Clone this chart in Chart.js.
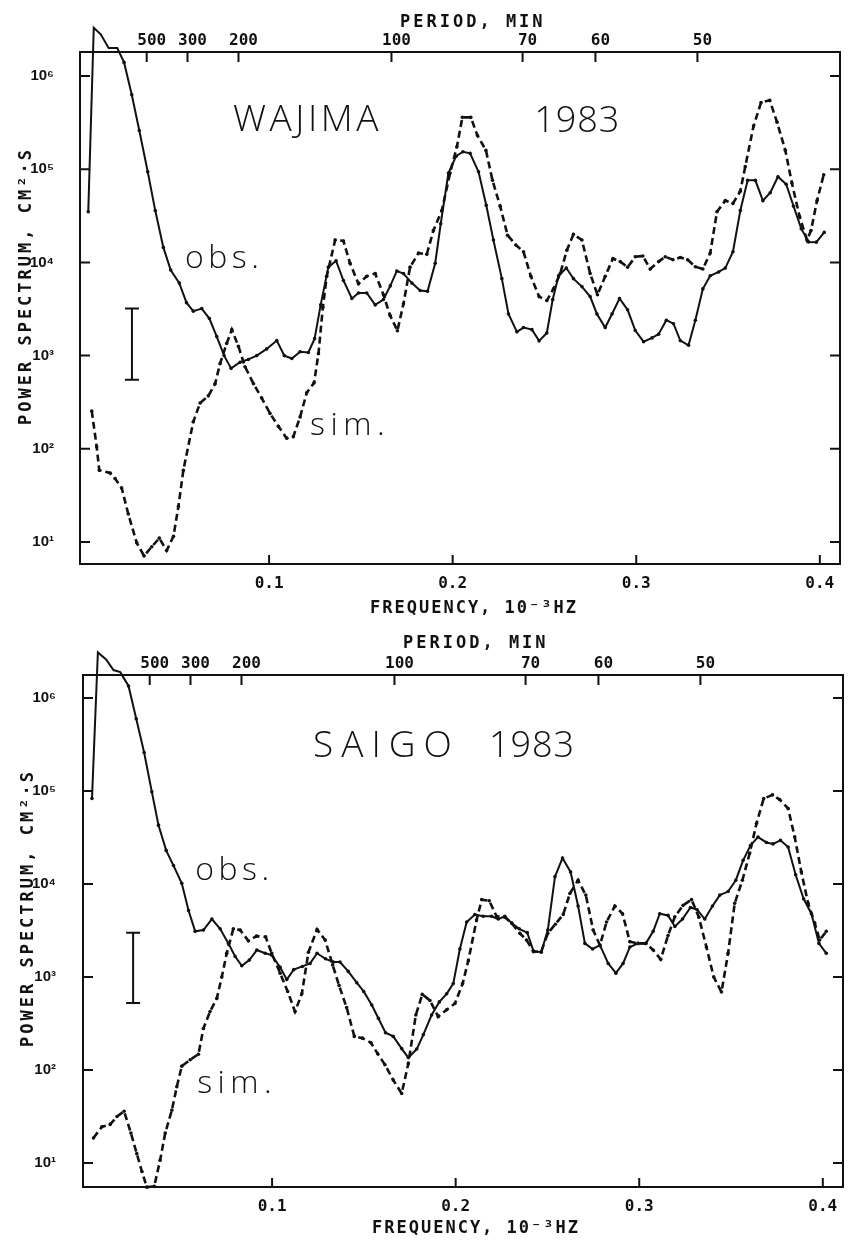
<!DOCTYPE html>
<html>
<head>
<meta charset="utf-8">
<script src="https://cdn.jsdelivr.net/npm/chart.js@4.4.1/dist/chart.umd.min.js"></script>
<style>
html, body { margin: 0; padding: 0; background: #fff; }
#wrap { position: relative; width: 848px; height: 1243px; overflow: hidden; background: #fff; }
canvas { position: absolute; left: 0; }
#c1 { top: 0; }
#c2 { top: 620px; }
</style>
</head>
<body>
<div id="wrap">
  <canvas id="c1" width="848" height="620"></canvas>
  <canvas id="c2" width="848" height="623"></canvas>
</div>
<script>
// ---------- tick values and labels ----------
const freqTicks = [0.1, 0.2, 0.3, 0.4];
const freqTickLabels = ['0.1', '0.2', '0.3', '0.4'];
const periodTicks = [500, 300, 200, 100, 70, 60, 50];          // minutes
const periodTickLabels = ['500', '300', '200', '100', '70', '60', '50'];
const powerTicks = [1e1, 1e2, 1e3, 1e4, 1e5, 1e6];
const powerTickLabels = ['10¹', '10²', '10³', '10⁴', '10⁵', '10⁶'];

// ---------- WAJIMA 1983 ----------
const wajimaObsFreq = [0.0015,0.0045,0.0083,0.0126,0.0173,0.0210,0.0252,0.0293,0.0339,0.0380,0.0424,0.0464,0.0511,0.0550,0.0587,0.0633,0.0675,0.0715,0.0755,0.0793,0.0842,0.0887,0.0933,0.0987,0.1042,0.1083,0.1124,0.1169,0.1214,0.1248,0.1281,0.1323,0.1365,0.1405,0.1451,0.1487,0.1532,0.1578,0.1623,0.1660,0.1696,0.1732,0.1778,0.1823,0.1863,0.1905,0.1935,0.1977,0.2019,0.2056,0.2095,0.2141,0.2183,0.2222,0.2268,0.2304,0.2350,0.2386,0.2432,0.2471,0.2513,0.2545,0.2577,0.2619,0.2658,0.2704,0.2749,0.2786,0.2831,0.2868,0.2909,0.2953,0.2995,0.3040,0.3086,0.3122,0.3164,0.3203,0.3240,0.3285,0.3322,0.3363,0.3403,0.3449,0.3485,0.3527,0.3567,0.3607,0.3649,0.3690,0.3730,0.3772,0.3817,0.3857,0.3899,0.3939,0.3981,0.4024];
const wajimaObsPower = [3.5e4,3.3e6,2.8e6,2.0e6,2.0e6,1.4e6,6.3e5,2.6e5,9.4e4,3.6e4,1.45e4,8.3e3,6.0e3,3.7e3,3.0e3,3.2e3,2.5e3,1.6e3,1.0e3,730,850,910,1000,1180,1450,1000,930,1100,1080,1520,3.5e3,8.9e3,1.04e4,6.4e3,4.1e3,4.7e3,4.7e3,3.5e3,4.0e3,5.6e3,8.1e3,7.6e3,6.0e3,5.0e3,4.9e3,9.8e3,2.6e4,9.1e4,1.38e5,1.54e5,1.48e5,9.4e4,4.1e4,1.74e4,6.7e3,2.8e3,1.8e3,2.0e3,1.9e3,1.44e3,1.75e3,4.0e3,7.2e3,8.7e3,6.7e3,5.5e3,4.3e3,2.8e3,2.0e3,2.8e3,4.1e3,3.1e3,1.86e3,1.41e3,1.55e3,1.7e3,2.4e3,2.2e3,1.45e3,1.29e3,2.4e3,5.2e3,7.2e3,7.9e3,8.7e3,1.3e4,3.6e4,7.6e4,7.6e4,4.6e4,5.6e4,8.3e4,6.9e4,4.0e4,2.3e4,1.66e4,1.65e4,2.1e4];

const wajimaSimFreq = [0.0034,0.0061,0.0075,0.0134,0.0161,0.0197,0.0233,0.0279,0.0319,0.0361,0.0402,0.0442,0.0479,0.0506,0.0533,0.0587,0.0624,0.0669,0.0706,0.0733,0.0769,0.0797,0.0833,0.0869,0.0915,0.0960,0.1005,0.1051,0.1096,0.1132,0.1169,0.1205,0.1245,0.1269,0.1293,0.1314,0.1360,0.1405,0.1441,0.1487,0.1532,0.1578,0.1623,0.1659,0.1699,0.1732,0.1768,0.1814,0.1859,0.1895,0.1941,0.1986,0.2023,0.2053,0.2099,0.2135,0.2181,0.2217,0.2259,0.2299,0.2344,0.2386,0.2426,0.2471,0.2513,0.2549,0.2586,0.2622,0.2658,0.2704,0.2749,0.2789,0.2831,0.2873,0.2913,0.2953,0.2995,0.3036,0.3076,0.3122,0.3158,0.3200,0.3240,0.3280,0.3322,0.3363,0.3403,0.3440,0.3485,0.3527,0.3567,0.3594,0.3639,0.3680,0.3727,0.3767,0.3812,0.3848,0.3890,0.3930,0.3952,0.3985,0.4021];
const wajimaSimPower = [255,105,59,55,48,38,20,9.8,7.1,8.9,11,8.1,11.5,24,59,195,310,370,500,820,1350,1900,1260,760,500,350,240,174,130,135,220,400,510,1050,3300,7100,1.74e4,1.7e4,9.8e3,5.9e3,7.1e3,7.6e3,4.5e3,2.7e3,1.85e3,3.6e3,8.9e3,1.26e4,1.22e4,2.2e4,3.6e4,9.1e4,1.74e5,3.6e5,3.6e5,2.3e5,1.6e5,7.6e4,4.0e4,1.96e4,1.54e4,1.3e4,7.1e3,4.3e3,3.9e3,5.2e3,7.6e3,1.35e4,2.0e4,1.74e4,7.6e3,4.5e3,7.1e3,1.1e4,1.02e4,8.9e3,1.15e4,1.17e4,8.5e3,1.02e4,1.15e4,1.07e4,1.13e4,1.07e4,9.0e3,8.5e3,1.26e4,3.5e4,4.6e4,4.3e4,5.8e4,1.07e5,2.9e5,5.2e5,5.5e5,3.2e5,1.6e5,7.1e4,3.1e4,1.74e4,2.2e4,4.6e4,8.7e4];

// ---------- SAIGO 1983 ----------
const saigoObsFreq = [0.0019,0.0051,0.0096,0.0136,0.0173,0.0218,0.0260,0.0303,0.0345,0.0381,0.0423,0.0463,0.0508,0.0545,0.0581,0.0626,0.0672,0.0717,0.0762,0.0799,0.0835,0.0876,0.0917,0.0962,0.0998,0.1044,0.1080,0.1118,0.1165,0.1207,0.1245,0.1291,0.1334,0.1370,0.1415,0.1461,0.1499,0.1543,0.1579,0.1618,0.1660,0.1706,0.1742,0.1788,0.1824,0.1869,0.1911,0.1951,0.1987,0.2023,0.2060,0.2105,0.2150,0.2196,0.2232,0.2268,0.2305,0.2346,0.2390,0.2424,0.2466,0.2502,0.2541,0.2582,0.2626,0.2667,0.2704,0.2746,0.2786,0.2831,0.2873,0.2912,0.2949,0.2994,0.3036,0.3076,0.3112,0.3157,0.3194,0.3236,0.3279,0.3315,0.3357,0.3399,0.3439,0.3484,0.3526,0.3566,0.3606,0.3647,0.3693,0.3729,0.3769,0.3811,0.3852,0.3896,0.3938,0.3979,0.4019];
const saigoObsPower = [8.3e4,3.1e6,2.6e6,2.0e6,1.9e6,1.35e6,6.0e5,2.6e5,9.8e4,4.3e4,2.3e4,1.58e4,1.02e4,5.2e3,3.1e3,3.2e3,4.2e3,3.3e3,2.3e3,1.66e3,1.32e3,1.52e3,1.95e3,1.8e3,1.72e3,1.27e3,940,1.2e3,1.3e3,1.4e3,1.8e3,1.57e3,1.45e3,1.45e3,1.15e3,870,700,500,360,252,230,170,136,168,240,390,540,660,850,2.0e3,3.9e3,4.7e3,4.5e3,4.5e3,4.2e3,4.5e3,3.8e3,3.3e3,3.0e3,1.9e3,1.85e3,3.2e3,1.2e4,1.9e4,1.35e4,5.8e3,2.3e3,2.0e3,2.2e3,1.4e3,1.1e3,1.4e3,2.1e3,2.3e3,2.3e3,3.1e3,4.8e3,4.6e3,3.5e3,4.2e3,5.6e3,5.3e3,4.2e3,5.8e3,7.6e3,8.3e3,1.1e4,1.8e4,2.6e4,3.2e4,2.8e4,2.7e4,2.95e4,2.5e4,1.26e4,6.9e3,4.8e3,2.3e3,1.8e3];

const saigoSimFreq = [0.0027,0.0073,0.0118,0.0155,0.0194,0.0231,0.0263,0.0291,0.0318,0.0358,0.0390,0.0418,0.0454,0.0481,0.0508,0.0554,0.0599,0.0626,0.0662,0.0699,0.0726,0.0753,0.0789,0.0826,0.0871,0.0915,0.0965,0.0998,0.1044,0.1085,0.1125,0.1162,0.1198,0.1245,0.1289,0.1330,0.1365,0.1406,0.1448,0.1492,0.1538,0.1575,0.1615,0.1660,0.1706,0.1742,0.1783,0.1818,0.1860,0.1905,0.1951,0.1996,0.2038,0.2069,0.2114,0.2142,0.2183,0.2223,0.2268,0.2305,0.2350,0.2386,0.2424,0.2466,0.2502,0.2543,0.2586,0.2622,0.2667,0.2709,0.2749,0.2786,0.2822,0.2867,0.2909,0.2949,0.2994,0.3036,0.3076,0.3117,0.3157,0.3194,0.3239,0.3285,0.3325,0.3366,0.3406,0.3448,0.3484,0.3520,0.3562,0.3602,0.3639,0.3678,0.3726,0.3765,0.3811,0.3847,0.3883,0.3920,0.3956,0.3983,0.4019];
const saigoSimPower = [18.6,24.5,26,31.6,36,21,12.6,8.1,5.5,5.6,10.7,21,37,66,110,129,148,280,425,590,1000,1800,3300,3200,2450,2750,2700,1800,1100,700,425,660,1850,3250,2500,1350,810,470,230,220,197,150,114,78,56,117,390,650,560,375,445,520,850,1.5e3,4.1e3,6.8e3,6.6e3,4.5e3,4.4e3,3.8e3,2.95e3,2.5e3,1.87e3,1.87e3,2.95e3,3.7e3,4.7e3,7.9e3,1.1e4,7.6e3,3.2e3,2.2e3,3.9e3,5.8e3,4.8e3,2.4e3,2.3e3,2.3e3,1.95e3,1.55e3,2.8e3,4.45e3,5.9e3,6.8e3,4.4e3,2.1e3,1.0e3,690,1.8e3,6.2e3,1.1e4,2.15e4,4.5e4,8.3e4,9.1e4,8.1e4,6.5e4,3.2e4,1.35e4,6.2e3,3.8e3,2.5e3,3.1e3];

// ---------- drawing ----------
const INK = '#111';
const MONO = "'DejaVu Sans Mono', 'Liberation Mono', monospace";
const SANS = "'Open Sans', 'DejaVu Sans', sans-serif";

function hasFont(name) {
  const c = document.createElement('canvas').getContext('2d');
  c.font = 'bold 40px monospace';
  const w1 = c.measureText('10ABCmmmWWii').width;
  c.font = `bold 40px '${name}', monospace`;
  const w2 = c.measureText('10ABCmmmWWii').width;
  return Math.abs(w1 - w2) > 0.5;
}
const yTickFont = hasFont('Liberation Sans')
  ? { family: "'Liberation Sans', Arial, sans-serif", size: 15, weight: 'bold' }
  : { family: MONO, size: 13, weight: 'bold' };

function pts(fs, ps) { return fs.map((f, i) => ({ x: f, y: ps[i] })); }
function periodToFreq(p) { return 1000 / (60 * p); } // 10^-3 Hz

function makePanel(id, o) {
  const tickFont = { family: MONO, size: 16, weight: 'bold' };
  const deco = {
    id: 'deco_' + id,
    afterDraw(chart) {
      const { ctx, chartArea: a, scales } = chart;
      const sx = scales.x, sy = scales.y, st = scales.xTop;
      ctx.save();
      ctx.strokeStyle = INK; ctx.fillStyle = INK;
      ctx.lineWidth = 2;
      ctx.strokeRect(a.left, a.top, a.right - a.left, a.bottom - a.top);
      ctx.beginPath();
      sy.ticks.forEach(t => {
        const y = sy.getPixelForValue(t.value);
        ctx.moveTo(a.left, y); ctx.lineTo(a.left + 10, y);
        ctx.moveTo(a.right, y); ctx.lineTo(a.right - 10, y);
      });
      sx.ticks.forEach(t => {
        const x = sx.getPixelForValue(t.value);
        ctx.moveTo(x, a.bottom); ctx.lineTo(x, a.bottom - 9);
      });
      st.ticks.forEach(t => {
        const x = st.getPixelForValue(t.value);
        ctx.moveTo(x, a.top); ctx.lineTo(x, a.top + 10);
      });
      ctx.stroke();

      // confidence bar
      const ex = sx.getPixelForValue(o.errBar.f);
      const e1 = sy.getPixelForValue(o.errBar.lo), e2 = sy.getPixelForValue(o.errBar.hi);
      ctx.beginPath();
      ctx.moveTo(ex, e1); ctx.lineTo(ex, e2);
      ctx.moveTo(ex - 7, e1); ctx.lineTo(ex + 7, e1);
      ctx.moveTo(ex - 7, e2); ctx.lineTo(ex + 7, e2);
      ctx.stroke();

      // in-plot labels
      ctx.textAlign = 'left'; ctx.textBaseline = 'alphabetic';
      o.notes.forEach(n => {
        ctx.font = `300 ${n.size}px ${SANS}`;
        ctx.letterSpacing = n.spacing + 'px';
        ctx.fillText(n.text, sx.getPixelForValue(n.f), sy.getPixelForValue(n.v));
      });

      // axis titles
      ctx.font = `bold 17px ${MONO}`;
      ctx.letterSpacing = '3px';
      ctx.fillText(o.topTitle.text, o.topTitle.x, o.topTitle.y);
      ctx.letterSpacing = '2px';
      ctx.fillText(o.bottomTitle.text, o.bottomTitle.x, o.bottomTitle.y);
      ctx.letterSpacing = '3px';
      ctx.translate(o.leftTitle.x, o.leftTitle.y);
      ctx.rotate(-Math.PI / 2);
      ctx.fillText(o.leftTitle.text, 0, 0);
      ctx.restore();
      ctx.letterSpacing = '0px';
    }
  };

  return new Chart(document.getElementById(id), {
    type: 'line',
    data: {
      datasets: [
        { label: 'obs.', data: pts(o.obsF, o.obsP), borderColor: INK, borderWidth: 2,
          pointRadius: 1.8, pointBackgroundColor: INK, pointBorderWidth: 0, pointHoverRadius: 0,
          tension: 0, clip: false, fill: false },
        { label: 'sim.', data: pts(o.simF, o.simP), borderColor: INK, borderWidth: 2.6, borderDash: [7, 4],
          pointRadius: 1.8, pointBackgroundColor: INK, pointBorderWidth: 0, pointHoverRadius: 0,
          tension: 0, clip: false, fill: false }
      ]
    },
    options: {
      responsive: false,
      animation: false,
      devicePixelRatio: 1,
      events: [],
      layout: { padding: { left: 0, top: 0, bottom: 0, right: o.padRight } },
      plugins: { legend: { display: false }, tooltip: { enabled: false }, title: { display: false } },
      scales: {
        x: {
          type: 'linear', position: 'bottom', min: o.fMin, max: o.fMax,
          afterBuildTicks: s => { s.ticks = freqTicks.map(v => ({ value: v })); },
          afterFit: s => { s.height = o.bottomH; s.paddingLeft = 0; s.paddingRight = 0; },
          grid: { display: false, drawTicks: false }, border: { display: false },
          ticks: { autoSkip: false, maxRotation: 0, padding: 10, color: INK, font: tickFont,
                   callback: (v, i) => freqTickLabels[i] }
        },
        xTop: {
          type: 'linear', position: 'top', min: o.fMin, max: o.fMax,
          afterBuildTicks: s => { s.ticks = periodTicks.map(p => ({ value: periodToFreq(p) })); },
          afterFit: s => { s.height = o.topH; s.paddingLeft = 0; s.paddingRight = 0; },
          grid: { display: false, drawTicks: false }, border: { display: false },
          ticks: { autoSkip: false, maxRotation: 0, padding: 2, labelOffset: 5, color: INK, font: tickFont,
                   callback: (v, i) => periodTickLabels[i] }
        },
        y: {
          type: 'logarithmic', position: 'left', min: o.pMin, max: o.pMax,
          afterBuildTicks: s => { s.ticks = powerTicks.map(v => ({ value: v })); },
          afterFit: s => { s.width = o.leftW; s.paddingTop = 0; s.paddingBottom = 0; },
          grid: { display: false, drawTicks: false }, border: { display: false },
          ticks: { autoSkip: false, padding: o.yPad, color: INK, font: yTickFont,
                   callback: (v, i) => powerTickLabels[i] }
        }
      }
    },
    plugins: [deco]
  });
}

makePanel('c1', {
  obsF: wajimaObsFreq, obsP: wajimaObsPower, simF: wajimaSimFreq, simP: wajimaSimPower,
  fMin: -0.003, fMax: 0.411, pMin: 5.81, pMax: 1.81e6,
  padRight: 8, leftW: 80, topH: 52, bottomH: 56, yPad: 26,
  errBar: { f: 0.0253, lo: 550, hi: 3200 },
  notes: [
    { text: 'WAJIMA', f: 0.0804, v: 2.6e5, size: 37, spacing: 3.5 },
    { text: '1983', f: 0.2444, v: 2.5e5, size: 36, spacing: 1 },
    { text: 'obs.', f: 0.0542, v: 8.7e3, size: 32, spacing: 4.5 },
    { text: 'sim.', f: 0.1223, v: 140, size: 32, spacing: 5.5 }
  ],
  topTitle: { text: 'PERIOD, MIN', x: 400, y: 27 },
  bottomTitle: { text: 'FREQUENCY, 10⁻³HZ', x: 370, y: 613 },
  leftTitle: { text: 'POWER SPECTRUM, CM²·S', x: 31, y: 425 }
});

makePanel('c2', {
  obsF: saigoObsFreq, obsP: saigoObsPower, simF: saigoSimFreq, simP: saigoSimPower,
  fMin: -0.003, fMax: 0.411, pMin: 5.52, pMax: 1.77e6,
  padRight: 5, leftW: 83, topH: 55, bottomH: 56, yPad: 27,
  errBar: { f: 0.0243, lo: 525, hi: 3000 },
  notes: [
    { text: 'SAIGO', f: 0.1223, v: 2.3e5, size: 37, spacing: 8 },
    { text: '1983', f: 0.2181, v: 2.3e5, size: 36, spacing: 1 },
    { text: 'obs.', f: 0.0581, v: 1.1e4, size: 32, spacing: 4.5 },
    { text: 'sim.', f: 0.0592, v: 57, size: 32, spacing: 5.5 }
  ],
  topTitle: { text: 'PERIOD, MIN', x: 403, y: 28 },
  bottomTitle: { text: 'FREQUENCY, 10⁻³HZ', x: 372, y: 613 },
  leftTitle: { text: 'POWER SPECTRUM, CM²·S', x: 33, y: 427 }
});
</script>
</body>
</html>
